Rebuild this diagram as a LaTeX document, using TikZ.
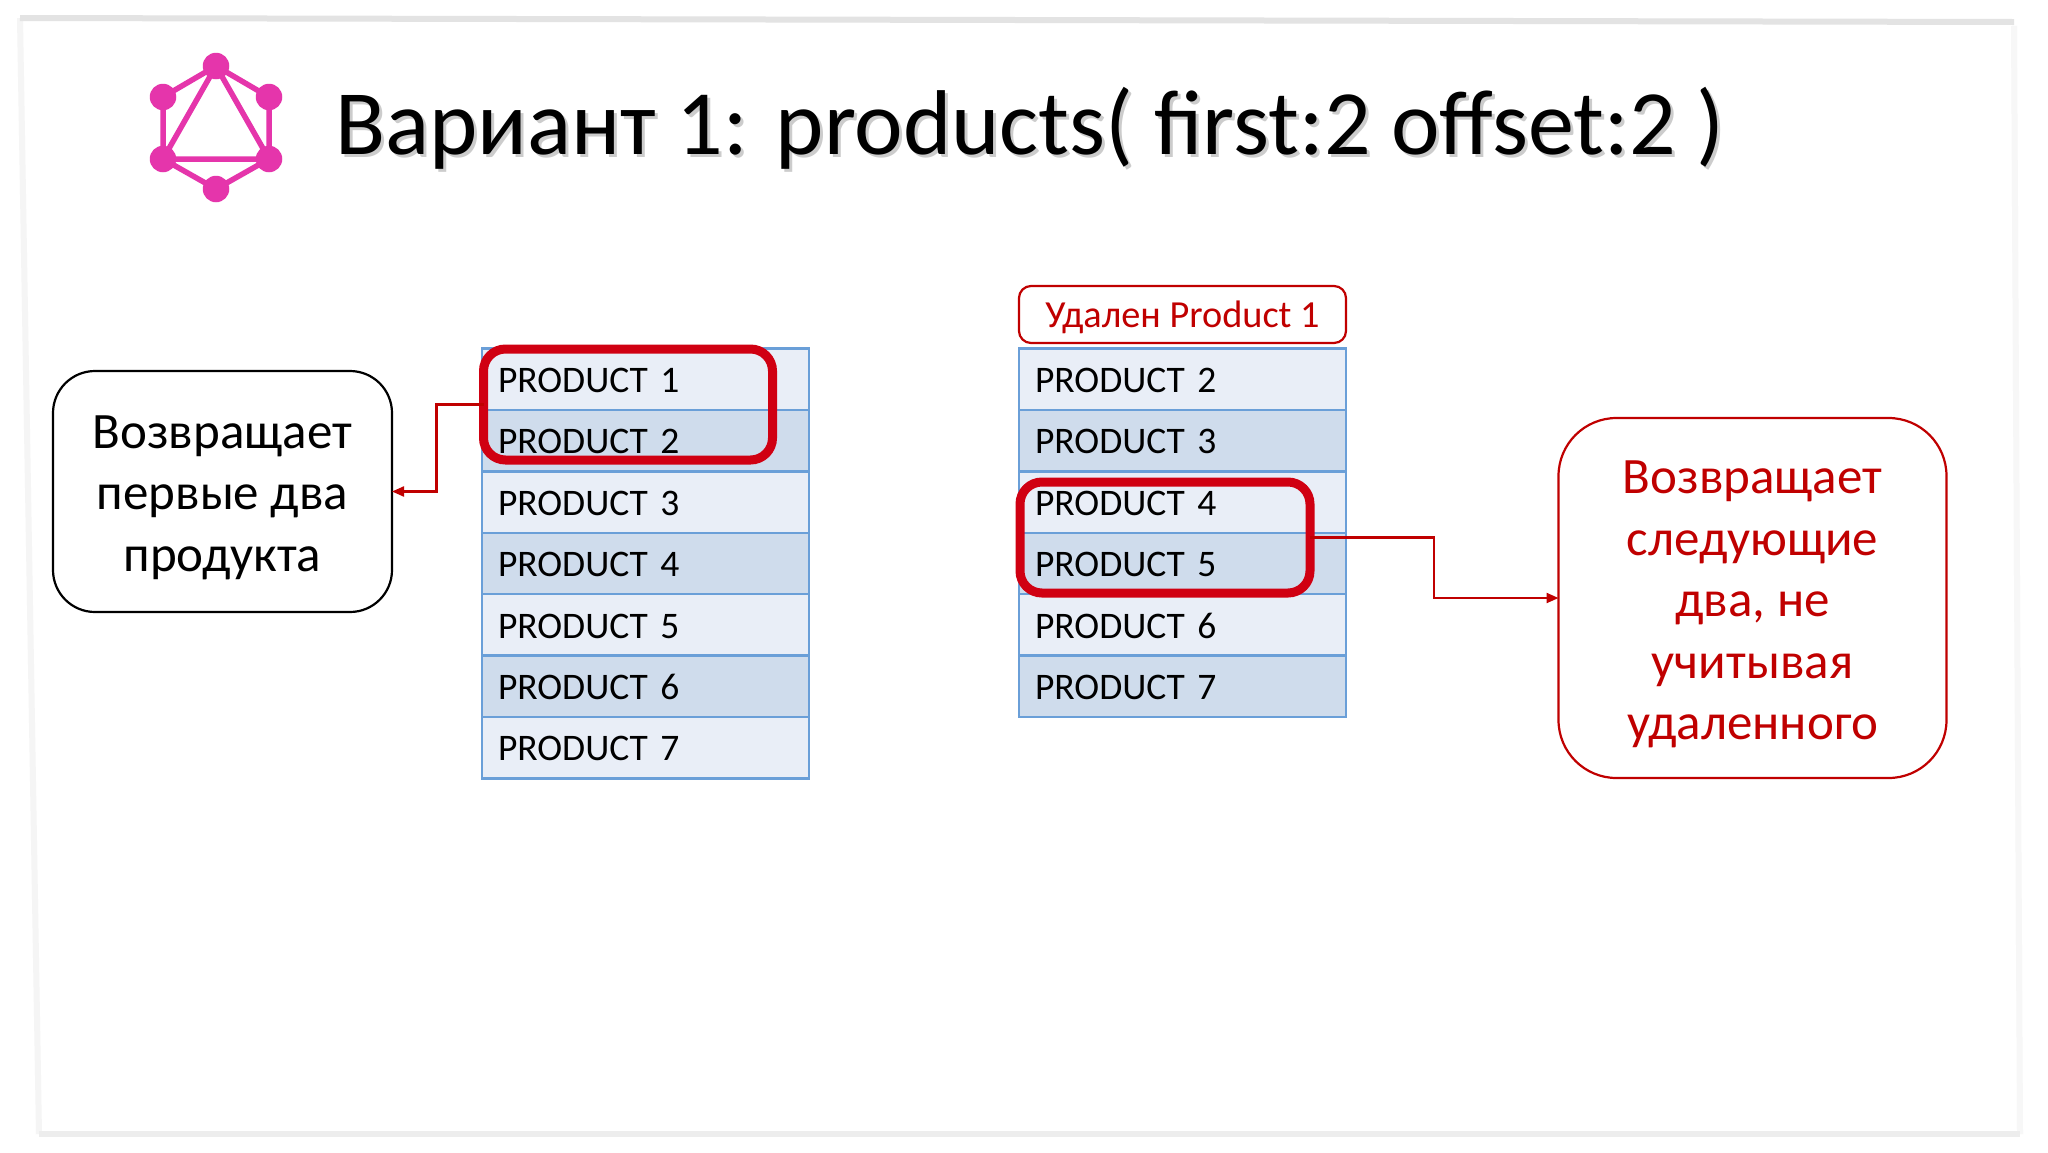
\documentclass[tikz,border=0pt]{standalone}
\usepackage{fontspec}
\setmainfont{Carlito}
\usetikzlibrary{arrows.meta}
\definecolor{gqlpink}{HTML}{E535AB}
\definecolor{darkred}{HTML}{C00000}
\definecolor{hlred}{HTML}{D00012}
\definecolor{rowline}{HTML}{6A9FD8}
\definecolor{rowlight}{HTML}{E9EEF7}
\definecolor{rowdark}{HTML}{CFDCEC}
\definecolor{titleshade}{HTML}{CCCCCC}
\newcommand{\shadowtext}[1]{\rlap{\kern3pt\raisebox{-3.5pt}{\textcolor{titleshade}{#1}}}#1}
\tikzset{
  every node/.style={outer sep=0pt},
  rowbase/.style={draw=rowline,line width=2.4pt,anchor=north west,inner xsep=16pt,inner ysep=0pt,
    text width=295pt,align=left,text height=44pt,text depth=17.4pt,
    font=\fontsize{37.5}{37.5}\selectfont},
  rowa/.style={rowbase,fill=rowlight},
  rowb/.style={rowbase,fill=rowdark},
  hilite/.style={draw=hlred,line width=9pt,rounded corners=22pt,anchor=north west,inner sep=0pt},
  conn/.style={draw=darkred,line width=2.2pt,-{Triangle[length=12pt,width=10pt]}},
  gedge/.style={draw=gqlpink,line width=5.5pt},
  gdot/.style={circle,fill=gqlpink,minimum size=26.5pt,inner sep=0pt},
  framepart/.style={line width=6pt}
}
\begin{document}
\begin{tikzpicture}[x=1pt,y=-1pt]
\useasboundingbox (0,0) rectangle (2048,1152);
\fill[white] (0,0) rectangle (2048,1152);
% slide frame
\draw[framepart,draw=black!4] (20,18) -- (39,1134);
\draw[framepart,draw=black!3] (2014,26) -- (2020,1134);
\draw[framepart,draw=black!7] (39,1134) -- (2020,1134);
\draw[framepart,draw=black!11] (20,18) -- (2014,22);
% logo
\node[gdot] (g1) at (216,66) {};
\node[gdot] (g2) at (269,97) {};
\node[gdot] (g3) at (269,159) {};
\node[gdot] (g4) at (216,189) {};
\node[gdot] (g5) at (163,159) {};
\node[gdot] (g6) at (163,97) {};
\draw[gedge] (g1.center) -- (g2.center) -- (g3.center) -- (g4.center) -- (g5.center) -- (g6.center) -- (g1.center);
\draw[gedge] (g1.center) -- (g3.center) -- (g5.center) -- (g1.center);
% title
\node[anchor=base west,inner sep=0pt,font=\fontsize{92}{92}\selectfont] (title) at (335,154)
  {\shadowtext{Вариант 1: products( first:2 offset:2 )}};
% left table
\foreach \i/\s/\t in {0/rowa/1,1/rowb/2,2/rowa/3,3/rowb/4,4/rowa/5,5/rowb/6,6/rowa/7}
  \node[\s] (l\t) at (482,348.5+61.4*\i) {PRODUCT \t};
% right table
\foreach \i/\s/\t in {0/rowa/2,1/rowb/3,2/rowa/4,3/rowb/5,4/rowa/6,5/rowb/7}
  \node[\s] (r\t) at (1019,348.5+61.4*\i) {PRODUCT \t};
% deleted label
\node[draw=darkred,line width=2.2pt,rounded corners=12pt,anchor=north west,minimum width=327pt,minimum height=57pt,
  inner sep=0pt,text=darkred,font=\fontsize{38.3}{38.3}\selectfont] (deleted) at (1019,286) {\rule{0pt}{33pt}Удален Product 1};
% text boxes
\node[draw=black,line width=2.2pt,rounded corners=42pt,anchor=north west,minimum width=339pt,minimum height=241pt,
  inner sep=0pt,align=center,font=\fontsize{51}{61.5}\selectfont] (leftbox) at (53,371)
  {\rule{0pt}{45pt}Возвращает\\первые два\\продукта};
\node[draw=darkred,line width=2.2pt,rounded corners=58pt,anchor=north west,minimum width=388pt,minimum height=360pt,
  inner sep=0pt,align=center,text=darkred,font=\fontsize{51}{61.5}\selectfont] (rightbox) at (1558.5,418)
  {\rule{0pt}{46pt}Возвращает\\следующие\\два, не\\учитывая\\удаленного};
% highlights
\node[hilite,minimum width=289pt,minimum height=111pt] (hl1) at (483.5,349) {};
\node[hilite,minimum width=290pt,minimum height=111pt] (hl2) at (1020,482) {};
% connectors
\coordinate (c1) at (436.5,0);
\coordinate (c2) at (1434,0);
\draw[conn] (hl1.west) -- (c1 |- hl1.west) -- (c1 |- leftbox.east) -- (leftbox.east);
\draw[conn] (hl2.east) -- (c2 |- hl2.east) -- (c2 |- rightbox.west) -- (rightbox.west);
\end{tikzpicture}
\end{document}
